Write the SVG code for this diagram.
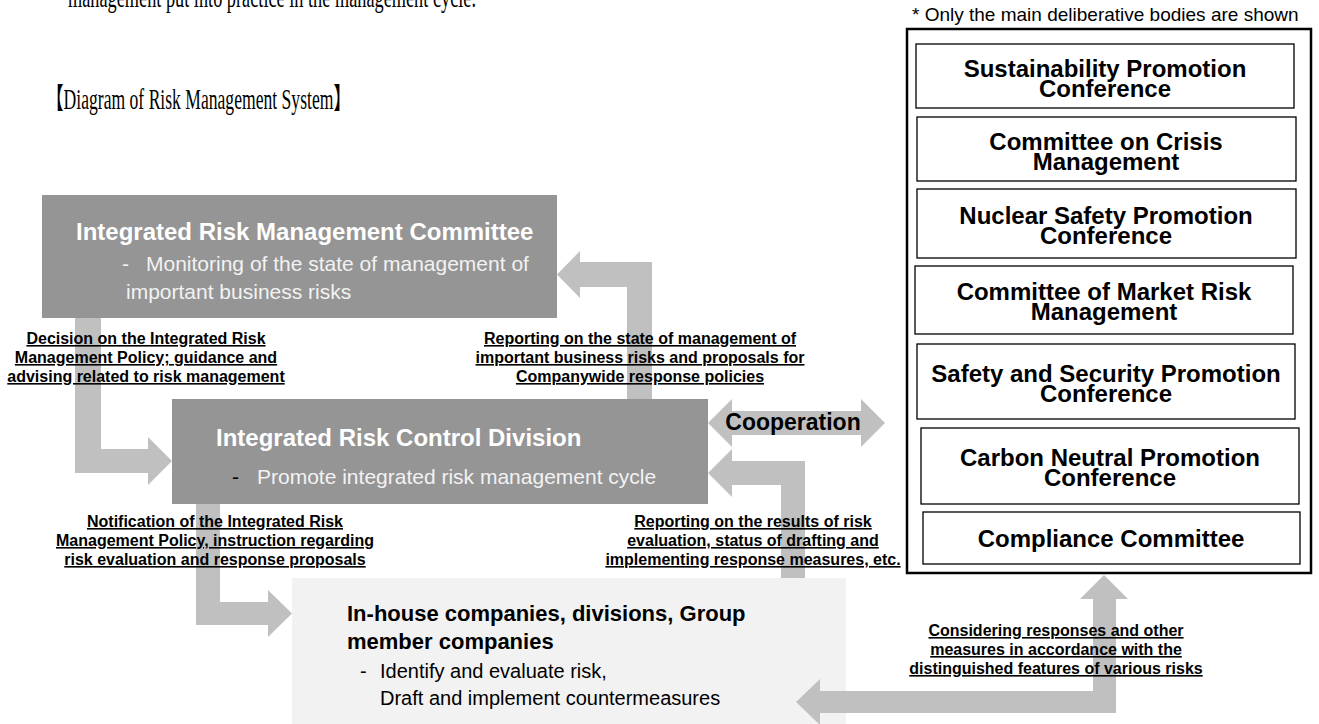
<svg xmlns="http://www.w3.org/2000/svg" width="1319" height="724" viewBox="0 0 1319 724">
  <style>
    .serif { font-family: "Liberation Serif", "Noto Sans CJK JP", serif; font-size: 29px; fill: #000; }
    .dark { fill: #959595; }
    .light { fill: #f2f2f2; }
    .arrow { fill: #c0c0c0; }
    .ttl { font-family: "Liberation Sans", Arial, sans-serif; font-weight: bold; font-size: 24px; fill: #fff; }
    .sub { font-family: "Liberation Sans", Arial, sans-serif; font-size: 21px; fill: #f2f2f2; }
    .lbl { font-family: "Liberation Sans", Arial, sans-serif; font-weight: bold; font-size: 16px; fill: #000; text-decoration: underline; text-anchor: middle; }
    .body { font-family: "Liberation Sans", Arial, sans-serif; font-weight: bold; font-size: 24px; fill: #000; text-anchor: middle; }
    .box { fill: #fff; stroke: #000; stroke-width: 1.3; }
    .note { font-family: "Liberation Sans", Arial, sans-serif; font-size: 19px; fill: #000; }
    .blk { font-family: "Liberation Sans", Arial, sans-serif; fill: #000; }
  </style>

  <!-- running text above the figure -->
  <text class="serif" x="68" y="7" textLength="408" lengthAdjust="spacingAndGlyphs">management put into practice in the management cycle.</text>
  <text class="serif" x="46" y="109" textLength="305" lengthAdjust="spacingAndGlyphs">【Diagram of Risk Management System】</text>

  <g id="committee">
    <rect class="dark" x="42" y="195" width="515" height="123"/>
    <text class="ttl" x="76" y="240">Integrated Risk Management Committee</text>
    <text class="sub" x="122" y="271">-</text>
    <text class="sub" x="146" y="271">Monitoring of the state of management of</text>
    <text class="sub" x="126" y="299">important business risks</text>
  </g>

  <g id="control-division">
    <rect class="dark" x="172" y="399" width="536" height="105"/>
    <text class="ttl" x="216" y="446">Integrated Risk Control Division</text>
    <text class="sub" x="232" y="484" style="fill:#000">-</text>
    <text class="sub" x="257" y="484">Promote integrated risk management cycle</text>
  </g>

  <g id="in-house">
    <rect class="light" x="292" y="578" width="554" height="146"/>
    <text class="blk" x="347" y="621" font-weight="bold" font-size="22">In-house companies, divisions, Group</text>
    <text class="blk" x="347" y="649" font-weight="bold" font-size="22">member companies</text>
    <text class="blk" x="360" y="678" font-size="20">-</text>
    <text class="blk" x="380" y="678" font-size="20">Identify and evaluate risk,</text>
    <text class="blk" x="380" y="705" font-size="20">Draft and implement countermeasures</text>
  </g>

  <g id="deliberative-bodies">
    <text class="note" x="912" y="21">* Only the main deliberative bodies are shown</text>
    <rect x="907" y="29" width="404" height="544" fill="#fff" stroke="#000" stroke-width="2.5"/>
    <g id="sustainability">
      <rect class="box" x="916" y="44" width="378" height="64"/>
      <text class="body" x="1105" y="77">Sustainability Promotion</text>
      <text class="body" x="1105" y="97">Conference</text>
    </g>
    <g id="crisis">
      <rect class="box" x="917" y="117" width="379" height="64"/>
      <text class="body" x="1106" y="150">Committee on Crisis</text>
      <text class="body" x="1106" y="170">Management</text>
    </g>
    <g id="nuclear">
      <rect class="box" x="917" y="189" width="379" height="69"/>
      <text class="body" x="1106" y="224">Nuclear Safety Promotion</text>
      <text class="body" x="1106" y="244">Conference</text>
    </g>
    <g id="market-risk">
      <rect class="box" x="915" y="266" width="378" height="68"/>
      <text class="body" x="1104" y="300">Committee of Market Risk</text>
      <text class="body" x="1104" y="320">Management</text>
    </g>
    <g id="safety-security">
      <rect class="box" x="917" y="344" width="378" height="75"/>
      <text class="body" x="1106" y="382">Safety and Security Promotion</text>
      <text class="body" x="1106" y="402">Conference</text>
    </g>
    <g id="carbon-neutral">
      <rect class="box" x="921" y="428" width="378" height="76"/>
      <text class="body" x="1110" y="466">Carbon Neutral Promotion</text>
      <text class="body" x="1110" y="486">Conference</text>
    </g>
    <g id="compliance">
      <rect class="box" x="923" y="512" width="377" height="52"/>
      <text class="body" x="1111" y="547">Compliance Committee</text>
    </g>
  </g>

  <!-- connectors: block arrows with their labels drawn over them -->
  <g id="connectors">
    <!-- committee -> control division -->
    <polygon class="arrow" points="75,318 101,318 101,449 148,449 148,437 172,461 148,485 148,473 75,473"/>
    <!-- control division -> committee -->
    <polygon class="arrow" points="652,399 627,399 627,287 580,287 580,298 557,274.5 580,251 580,262 652,262"/>
    <!-- control division -> in-house companies -->
    <polygon class="arrow" points="196,504 220,504 220,602 268,602 268,590 292,613.5 268,637 268,625 196,625"/>
    <!-- in-house companies -> control division -->
    <polygon class="arrow" points="805,578 781,578 781,485 732,485 732,497 708,473 732,449 732,461 805,461"/>
    <!-- cooperation (two-way) -->
    <polygon class="arrow" points="708,423 732,399 732,411 861,411 861,399 885,423 861,447 861,435 732,435 732,447"/>
    <!-- in-house companies <-> deliberative bodies -->
    <polygon class="arrow" points="796,702 820,679 820,691 1093,691 1093,599 1080,599 1104,575 1128,599 1116,599 1116,713 820,713 820,725"/>

    <text class="lbl" x="146" y="344">Decision on the Integrated Risk</text>
    <text class="lbl" x="146" y="363">Management Policy; guidance and</text>
    <text class="lbl" x="146" y="382">advising related to risk management</text>

    <text class="lbl" x="640" y="344">Reporting on the state of management of</text>
    <text class="lbl" x="640" y="363">important business risks and proposals for</text>
    <text class="lbl" x="640" y="382">Companywide response policies</text>

    <text class="lbl" x="215" y="527">Notification of the Integrated Risk</text>
    <text class="lbl" x="215" y="546">Management Policy, instruction regarding</text>
    <text class="lbl" x="215" y="565">risk evaluation and response proposals</text>

    <text class="lbl" x="753" y="527">Reporting on the results of risk</text>
    <text class="lbl" x="753" y="546">evaluation, status of drafting and</text>
    <text class="lbl" x="753" y="565">implementing response measures, etc.</text>

    <text class="lbl" x="1056" y="636">Considering responses and other</text>
    <text class="lbl" x="1056" y="655">measures in accordance with the</text>
    <text class="lbl" x="1056" y="674">distinguished features of various risks</text>

    <text class="blk" x="793" y="430" font-weight="bold" font-size="23" text-anchor="middle">Cooperation</text>
  </g>
</svg>
